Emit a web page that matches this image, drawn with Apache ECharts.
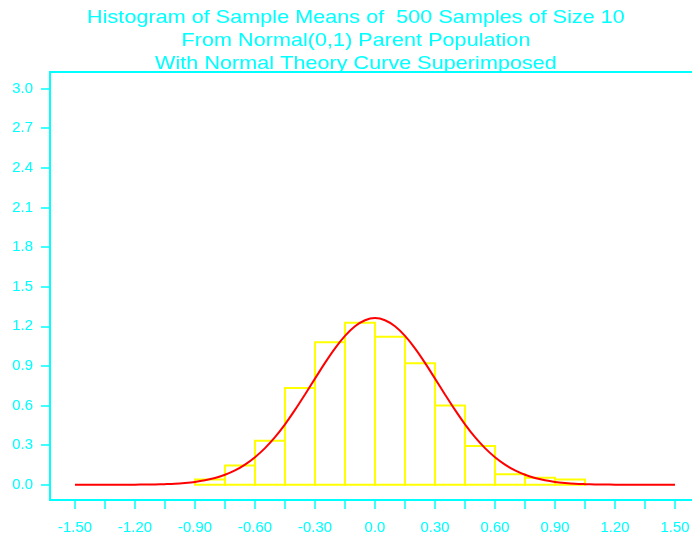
<!DOCTYPE html>
<html>
<head>
<meta charset="utf-8">
<script src="https://cdn.jsdelivr.net/npm/echarts@6/dist/echarts.min.js"></script>
<style>
	html, body { margin: 0; padding: 0; background: #fff; }
	#chart { width: 692px; height: 537px; }
</style>
</head>
<body>
<div id="chart"></div>
<script>
// histogram bin edges and density heights (count / (500 * 0.15))
let binEdges = [-0.90, -0.75, -0.60, -0.45, -0.30, -0.15, 0.00, 0.15, 0.30, 0.45, 0.60, 0.75, 0.90, 1.05];
let density = [0.040, 0.147, 0.333, 0.733, 1.080, 1.227, 1.120, 0.920, 0.600, 0.293, 0.080, 0.053, 0.040];

// normal theory curve
let curveX = [-1.50, -1.45, -1.40, -1.35, -1.30, -1.25, -1.20, -1.15, -1.10, -1.05, -1.00, -0.95, -0.90, -0.85, -0.80, -0.75,
	-0.70, -0.65, -0.60, -0.55, -0.50, -0.45, -0.40, -0.35, -0.30, -0.25, -0.20, -0.15, -0.10, -0.05, 0.00,
	0.05, 0.10, 0.15, 0.20, 0.25, 0.30, 0.35, 0.40, 0.45, 0.50, 0.55, 0.60, 0.65, 0.70, 0.75,
	0.80, 0.85, 0.90, 0.95, 1.00, 1.05, 1.10, 1.15, 1.20, 1.25, 1.30, 1.35, 1.40, 1.45, 1.50];
let curveY = [0, 0, 0, 0, 0, 0, 0.001, 0.002, 0.003, 0.005, 0.008, 0.014, 0.022, 0.034, 0.051, 0.076,
	0.109, 0.153, 0.209, 0.278, 0.361, 0.458, 0.567, 0.684, 0.804, 0.923, 1.033, 1.127, 1.200, 1.246, 1.262,
	1.246, 1.200, 1.127, 1.033, 0.923, 0.804, 0.684, 0.567, 0.458, 0.361, 0.278, 0.209, 0.153, 0.109, 0.076,
	0.051, 0.034, 0.022, 0.014, 0.008, 0.005, 0.003, 0.002, 0.001, 0, 0, 0, 0, 0, 0];

// axis ticks
let xTicks = [-1.50, -1.35, -1.20, -1.05, -0.90, -0.75, -0.60, -0.45, -0.30, -0.15, 0.00, 0.15, 0.30, 0.45, 0.60, 0.75, 0.90, 1.05, 1.20, 1.35, 1.50];
let xLabels = [-1.50, -1.20, -0.90, -0.60, -0.30, 0.00, 0.30, 0.60, 0.90, 1.20, 1.50];
let yTicks = [0.0, 0.3, 0.6, 0.9, 1.2, 1.5, 1.8, 2.1, 2.4, 2.7, 3.0];

let titleLines = [
	'Histogram of Sample Means of  500 Samples of Size 10',
	'From Normal(0,1) Parent Population',
	'With Normal Theory Curve Superimposed'
];

let cyan = '#00ffff';
let font = "'Liberation Sans', Arial, sans-serif";

let bars = [];
density.forEach((h, i) => {
	bars.push([binEdges[i], binEdges[i + 1], h]);
});
let curve = curveX.map((x, i) => [x, curveY[i]]);

// title lines, slightly stretched like the original lettering
let titleGraphics = titleLines.map((t, i) => ({
	type: 'text',
	x: 356,
	y: 8.5 + i * 23.2,
	scaleX: 1.17,
	z: 10,
	style: {
		text: t,
		fill: cyan,
		font: '18.5px ' + font,
		align: 'center',
		verticalAlign: 'top'
	}
}));

let myChart = echarts.init(document.getElementById('chart'), null, { renderer: 'canvas' });
let option = {
	backgroundColor: '#fff',
	animation: false,
	graphic: titleGraphics,
	grid: {
		show: true,
		left: 50,
		top: 72,
		width: 650,
		height: 428,
		outerBoundsMode: 'none',
		containLabel: false,
		borderColor: cyan,
		borderWidth: 2,
		backgroundColor: 'transparent'
	},
	xAxis: {
		type: 'value',
		min: -1.625,
		max: 1.625,
		splitLine: { show: false },
		axisLine: { show: false, onZero: false },
		axisTick: {
			show: true,
			customValues: xTicks,
			length: 9,
			lineStyle: { color: cyan, width: 1.5 }
		},
		axisLabel: {
			customValues: xLabels,
			margin: 20,
			color: cyan,
			fontFamily: font,
			fontSize: 15,
			formatter: function (v) {
				return Math.abs(v) < 1e-9 ? '0.0' : v.toFixed(2);
			}
		}
	},
	yAxis: {
		type: 'value',
		min: -0.115,
		max: 3.125,
		splitLine: { show: false },
		axisLine: { show: false, onZero: false },
		axisTick: {
			show: true,
			customValues: yTicks,
			length: 9,
			lineStyle: { color: cyan, width: 1.5 }
		},
		axisLabel: {
			customValues: yTicks,
			margin: 17,
			color: cyan,
			fontFamily: font,
			fontSize: 15,
			padding: [3, 0, 0, 0],
			formatter: function (v) {
				return v.toFixed(1);
			}
		}
	},
	series: [{
		type: 'custom',
		data: bars,
		renderItem: function (params, api) {
			let p0 = api.coord([api.value(0), api.value(2)]);
			let p1 = api.coord([api.value(1), 0]);
			return {
				type: 'rect',
				shape: { x: p0[0], y: p0[1], width: p1[0] - p0[0], height: p1[1] - p0[1] },
				style: { fill: '#fff', stroke: '#ffff00', lineWidth: 2 }
			};
		},
		z: 2
	}, {
		type: 'line',
		data: curve,
		showSymbol: false,
		smooth: 0.3,
		lineStyle: { color: '#ff0000', width: 2 },
		z: 3
	}]
};
myChart.setOption(option);
</script>
</body>
</html>
